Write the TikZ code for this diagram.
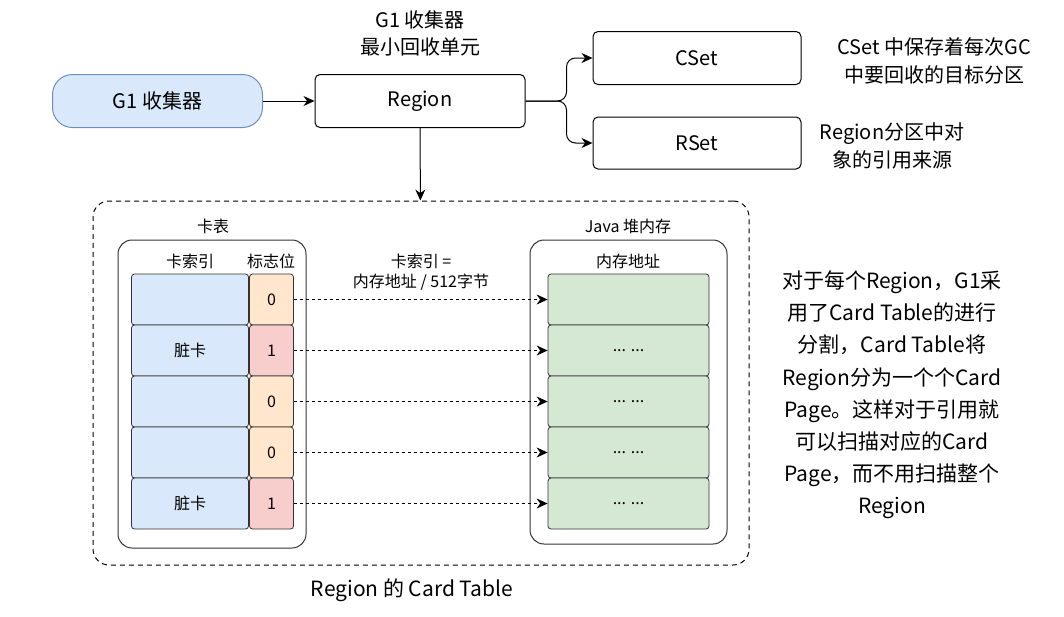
\documentclass[tikz,border=0pt]{standalone}
\usepackage{fontspec}
\setmainfont{Noto Sans CJK SC}
\usetikzlibrary{arrows.meta, positioning}

\definecolor{blueFill}{HTML}{DAE8FC}
\definecolor{blueLine}{HTML}{6C8EBF}
\definecolor{orangeFill}{HTML}{FFE6CC}
\definecolor{redFill}{HTML}{F8CECC}
\definecolor{greenFill}{HTML}{D5E8D4}

\newcommand{\heapdots}{... ...}

\tikzset{
    box/.style={draw, rounded corners=5pt, line width=1pt, minimum width=210pt, minimum height=53pt, font=\fontsize{20}{24}\selectfont},
    note/.style={align=center, font=\fontsize{20}{28}\selectfont},
    cell/.style={draw=black!80, rounded corners=3pt, line width=0.8pt, minimum height=51pt, inner sep=0pt, font=\fontsize{16}{19}\selectfont},
    small/.style={font=\fontsize{16}{25}\selectfont, align=center},
}

\begin{document}
\begin{tikzpicture}[x=1pt, y=-1pt, >={Stealth[length=11pt, width=10pt]}]
        \useasboundingbox (0,0) rectangle (1064,616);

        % --- 上段 ---
        \node[box, draw=blueLine, fill=blueFill, rounded corners=20pt] (g1) at (157.5,101) {G1 收集器};
        \node[box] (reg) at (420,101) {Region};
        \node[note, font=\fontsize{20}{27}\selectfont] (regtitle) at (420,33) {G1 收集器\\最小回收单元};
        \node[box, minimum width=208pt] (cset) at (697,58) {CSet};
        \node[box, minimum width=208pt, minimum height=52pt] (rset) at (697,143) {RSet};
        \node[note] (csetnote) at (934,61) {CSet 中保存着每次GC\\中要回收的目标分区};
        \node[note] (rsetnote) at (892,146) {Region分区中对\\象的引用来源};

        \draw[->, line width=1pt] (g1) -- (reg);
        \draw[->, line width=1pt, rounded corners=9pt] (reg.east) -- ++(41,0) |- (cset.west);
        \draw[->, line width=1pt, rounded corners=9pt] (reg.east) -- ++(41,0) |- (rset.west);

        % --- Card Table ---
        \node[draw, dashed, dash pattern=on 5pt off 4pt, line width=1pt, rounded corners=16pt,
              minimum width=656pt, minimum height=364pt] (ctr) at (421,383) {};
        \draw[->, line width=1pt] (reg) -- (ctr);

        \node[draw=black!80, line width=1pt, rounded corners=14pt, minimum width=188pt, minimum height=308pt] (cardtab) at (212,394) {};
        \node[draw=black!80, line width=1pt, rounded corners=14pt, minimum width=197pt, minimum height=304pt] (heap) at (628.5,392) {};
        \node[small] (cardtitle) at (213,226) {卡表};
        \node[small] (heaptitle) at (628,226) {Java 堆内存};
        \node[small] (idxhead) at (190,261) {卡索引};
        \node[small] (flaghead) at (271,261) {标志位};
        \node[small] (addrhead) at (628,261) {内存地址};
        \node[small, font=\fontsize{16}{20}\selectfont] (formula) at (421,272) {卡索引 =\\内存地址 / 512字节};

        % 各行
        \foreach \i/\txt/\flag/\col/\addr in {0//0/orangeFill/, 1/脏卡/1/redFill/\heapdots, 2//0/orangeFill/\heapdots, 3//0/orangeFill/\heapdots, 4/脏卡/1/redFill/\heapdots} {
            \node[cell, fill=blueFill, minimum width=117pt] (idx\i) at (190,299.5+51*\i) {\txt};
            \node[cell, fill=\col, minimum width=44pt] (flag\i) at (271.5,299.5+51*\i) {\flag};
            \node[cell, fill=greenFill, minimum width=161pt] (addr\i) at (628.5,299.5+51*\i) {\addr};
            \draw[->, dashed, line width=1pt] (flag\i) -- (addr\i);
        }

        \node[note, font=\fontsize{21}{28}\selectfont] (caption) at (412,590) {Region 的 Card Table};

        % --- 右側の説明 ---
        \node[note, font=\fontsize{21}{32.2}\selectfont] (desc) at (892,395) {对于每个Region，G1采\\用了Card Table的进行\\分割，Card Table将\\Region分为一个个Card\\Page。这样对于引用就\\可以扫描对应的Card\\Page，而不用扫描整个\\Region};

    \end{tikzpicture}
\end{document}
